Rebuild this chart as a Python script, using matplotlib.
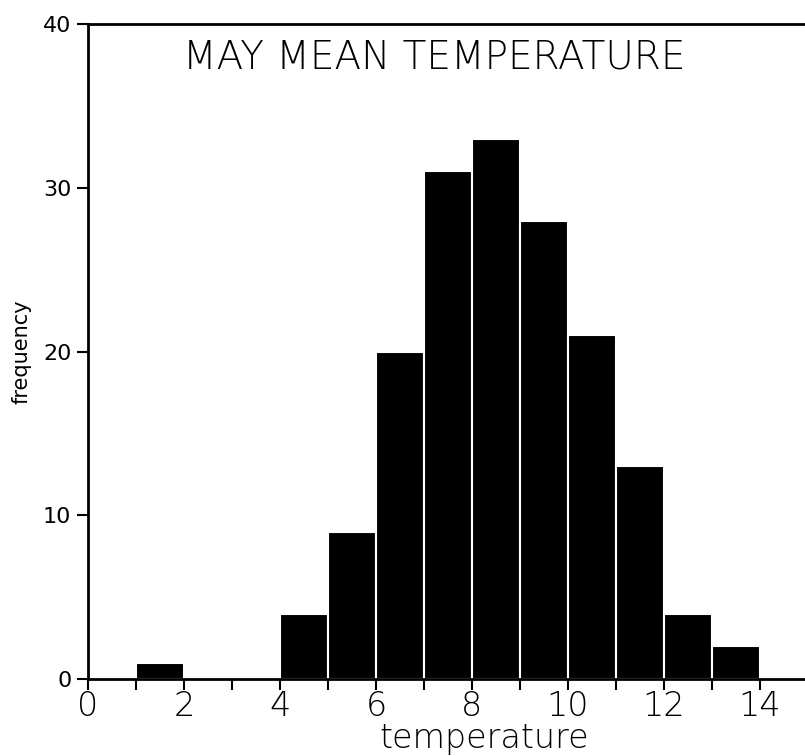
import matplotlib.pyplot as plt
import numpy as np

# histogram of May mean temperature, unit-width bins
bin_edges = [1, 2, 3, 4, 5, 6, 7, 8, 9, 10, 11, 12, 13, 14]
counts = [1, 0, 0, 4, 9, 20, 31, 33, 28, 21, 13, 4, 2]
x_ticks = list(range(0, 15))
x_labels = [str(t) if t % 2 == 0 else "" for t in x_ticks]
y_ticks = [0, 10, 20, 30, 40]

fig = plt.figure(figsize=(8.05, 7.56), dpi=100)
ax = fig.add_axes([88 / 805, 77 / 756, 1 - 88 / 805, 655 / 756])

left = np.array(bin_edges[:-1])
h = np.array(counts)
ax.bar(left, h, width=1, align="edge", color="black",
       edgecolor="white", linewidth=1.5)

ax.set_xlim(0, 717 / 48)
ax.set_ylim(0, 40)

ax.set_xticks(x_ticks)
ax.set_xticklabels(x_labels, fontsize=24, fontweight="light")
ax.set_yticks(y_ticks)
ax.tick_params(axis="y", labelsize=16, length=8, width=1.5, pad=4)
ax.tick_params(axis="x", length=8, width=1.5, pad=0)

for s in ["left", "bottom", "top"]:
    ax.spines[s].set_linewidth(2)
ax.spines["right"].set_visible(False)

ax.set_xlabel("temperature", fontsize=24, fontweight="light", va="bottom")
ax.xaxis.set_label_coords(0.552, -77 / 655 + 0.002)
ax.set_ylabel("frequency", fontsize=15, labelpad=8)
ax.text(0.483, 0.978, "MAY MEAN TEMPERATURE", transform=ax.transAxes,
        ha="center", va="top", fontsize=28, fontweight="light")

fig.savefig("out.png", dpi=100)
